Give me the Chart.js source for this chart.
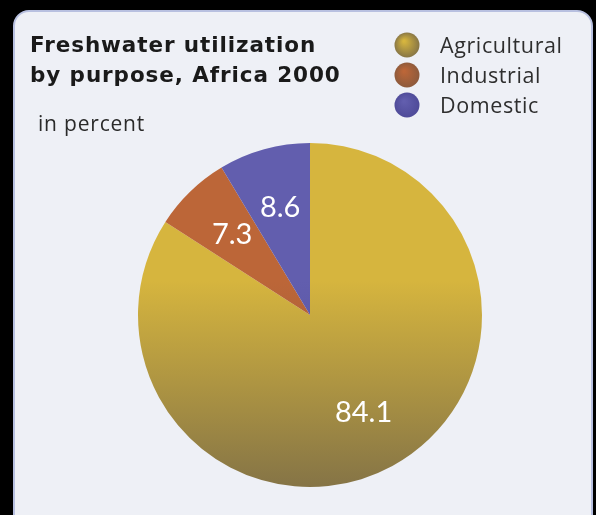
<!DOCTYPE html>
<html>
<head>
<meta charset="utf-8">
<script src="https://cdn.jsdelivr.net/npm/chart.js@4"></script>
<style>
  html, body { margin: 0; padding: 0; background: #000; }
  #wrap { position: relative; width: 596px; height: 515px; overflow: hidden; background: #000; }
  #panel { position: absolute; left: 13px; top: 10px; width: 580px; height: 530px;
           background: #eef0f6; border: 2px solid #b8c0e0; border-radius: 16px; box-sizing: border-box; }
  #c { position: absolute; left: 0; top: 0; }
</style>
</head>
<body>
<div id="wrap">
  <div id="panel"></div>
  <canvas id="c" width="596" height="515"></canvas>
</div>
<script>
const categories = ["Agricultural", "Industrial", "Domestic"];
const values = [84.1, 7.3, 8.6];
const valueLabels = ["84.1", "7.3", "8.6"];
const titleLines = ["Freshwater utilization", "by purpose, Africa 2000"];
const subtitle = "in percent";
const topColors = ["#d6b53e", "#bc6638", "#625eae"];
const bottomColors = ["#857446", "#8c5a3c", "#4e4a98"];

function sliceGradient(ctx) {
  const chart = ctx.chart;
  const area = chart.chartArea;
  if (!area) return topColors[ctx.dataIndex];
  const g = chart.ctx.createLinearGradient(0, area.top, 0, area.bottom);
  g.addColorStop(0, topColors[ctx.dataIndex]);
  g.addColorStop(0.4, topColors[ctx.dataIndex]);
  g.addColorStop(1, bottomColors[ctx.dataIndex]);
  return g;
}

const textPlugin = {
  id: 'texts',
  afterDraw(chart) {
    const ctx = chart.ctx;
    ctx.save();
    // titles
    ctx.fillStyle = '#1a1a1a';
    ctx.textAlign = 'left';
    ctx.textBaseline = 'alphabetic';
    ctx.font = 'bold 21.5px "DejaVu Sans", sans-serif';
    ctx.letterSpacing = '0.9px';
    ctx.fillText(titleLines[0], 30, 52);
    ctx.fillText(titleLines[1], 30, 82);
    ctx.letterSpacing = '0.8px';
    ctx.font = '21px "Open Sans", sans-serif';
    ctx.fillStyle = '#2a2a2a';
    ctx.fillText(subtitle, 38, 131);
    // legend
    ctx.letterSpacing = '0.6px';
    categories.forEach((name, i) => {
      const cy = 45 + i * 30;
      const cx = 407;
      const g = ctx.createRadialGradient(cx - 3, cy - 4, 1, cx, cy, 13);
      g.addColorStop(0, topColors[i]);
      g.addColorStop(1, bottomColors[i]);
      ctx.beginPath();
      ctx.arc(cx, cy, 12.5, 0, Math.PI * 2);
      ctx.fillStyle = g;
      ctx.fill();
      ctx.fillStyle = '#2e2e2e';
      ctx.font = '21.5px "Open Sans", sans-serif';
      ctx.fillText(name, 440, 53 + i * 30);
    });
    ctx.letterSpacing = '0px';
    // value labels
    const meta = chart.getDatasetMeta(0);
    ctx.fillStyle = '#ffffff';
    ctx.textAlign = 'center';
    ctx.textBaseline = 'middle';
    ctx.font = '29px Lato, "Open Sans", sans-serif';
    meta.data.forEach((arc, i) => {
      const p = arc.getProps(['x', 'y', 'startAngle', 'endAngle', 'outerRadius'], true);
      const mid = (p.startAngle + p.endAngle) / 2;
      const r = p.outerRadius * 0.65;
      ctx.fillText(valueLabels[i], p.x + Math.cos(mid) * r, p.y + Math.sin(mid) * r);
    });
    ctx.restore();
  }
};

new Chart(document.getElementById('c'), {
  type: 'pie',
  data: {
    labels: categories,
    datasets: [{
      data: values,
      backgroundColor: sliceGradient,
      borderWidth: 0
    }]
  },
  options: {
    responsive: false,
    animation: false,
    layout: { padding: { left: 138, right: 114, top: 143, bottom: 28 } },
    plugins: {
      legend: { display: false },
      title: { display: false },
      tooltip: { enabled: false }
    }
  },
  plugins: [textPlugin]
});
</script>
</body>
</html>
